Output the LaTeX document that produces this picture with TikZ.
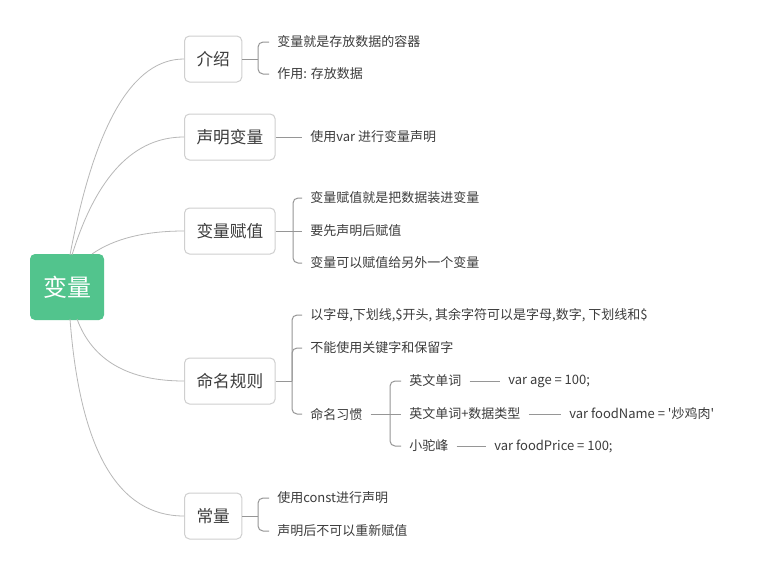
\documentclass[tikz,border=0pt]{standalone}
\usepackage{fontspec}
\newfontfamily\cjk{Noto Sans CJK SC}
\definecolor{rootgreen}{HTML}{52C48D}
\definecolor{txt}{HTML}{3C3C3C}
\definecolor{brd}{HTML}{CFCFCF}
\definecolor{curvec}{HTML}{B8B8B8}
\definecolor{branchc}{HTML}{969696}
\tikzset{
  rootbox/.style={fill=rootgreen, rounded corners=3.75pt, minimum width=55.5pt, minimum height=49.5pt, text=white, font=\cjk\fontsize{18}{20}\selectfont, inner sep=0pt},
  topicbox/.style={draw=brd, line width=0.75pt, fill=white, rounded corners=3.75pt, minimum height=34.5pt, inner xsep=9pt, text=txt, font=\cjk\fontsize{12.5}{14}\selectfont, anchor=west},
  leaf/.style={anchor=west, inner xsep=6pt, inner ysep=2pt, text=txt, font=\cjk\fontsize{9.75}{12}\selectfont},
  curveline/.style={draw=curvec, line width=0.6pt},
  branchline/.style={draw=branchc, line width=0.75pt, rounded corners=3.75pt},
}
\begin{document}
\begin{tikzpicture}[x=0.75pt,y=-0.75pt]
\useasboundingbox[fill=white] (0,0) rectangle (760,576);
% root
\node[rootbox] (root) at (67,287) {变量};
% topics
\node[topicbox] (t1) at (184,59) {介绍};
\node[topicbox] (t2) at (184,137) {声明变量};
\node[topicbox] (t3) at (184,231) {变量赋值};
\node[topicbox] (t4) at (184,381) {命名规则};
\node[topicbox] (t5) at (184,516) {常量};
% curve start points
\coordinate (s1) at (70,255);
\coordinate (s2) at (72,255);
\coordinate (s3) at (92,254);
\coordinate (s4) at (77,319);
\coordinate (s5) at (70,319);
\draw[curveline] (s1) .. controls (94.7,123.7) and (132.7,59) .. (t1.west);
\draw[curveline] (s2) .. controls (96.7,175.7) and (134,137) .. (t2.west);
\draw[curveline] (s3) .. controls (114,238.7) and (144.7,231) .. (t3.west);
\draw[curveline] (s4) .. controls (92.3,360.3) and (128,381) .. (t4.west);
\draw[curveline] (s5) .. controls (80,450.3) and (118,516) .. (t5.west);
% leaves
\node[leaf] (l1a) at (269,42) {变量就是存放数据的容器};
\node[leaf] (l1b) at (269,74) {作用: 存放数据};
\node[leaf] (l2) at (302,137) {使用var 进行变量声明};
\node[leaf] (l3a) at (302,198) {变量赋值就是把数据装进变量};
\node[leaf] (l3b) at (302,231) {要先声明后赋值};
\node[leaf] (l3c) at (302,263) {变量可以赋值给另外一个变量};
\node[leaf] (l4a) at (302,315) {以字母,下划线,\$开头, 其余字符可以是字母,数字, 下划线和\$};
\node[leaf] (l4b) at (302,348) {不能使用关键字和保留字};
\node[leaf] (l4c) at (302,414) {命名习惯};
\node[leaf] (l5a) at (401,381) {英文单词};
\node[leaf] (l5b) at (401,414) {英文单词+数据类型};
\node[leaf] (l5c) at (401,446) {小驼峰};
\node[leaf] (c5a) at (500,381) {var age = 100;};
\node[leaf] (c5b) at (561,414) {var foodName = '炒鸡肉'};
\node[leaf] (c5c) at (486,446) {var foodPrice = 100;};
\node[leaf] (l6a) at (269,498) {使用const进行声明};
\node[leaf] (l6b) at (269,531) {声明后不可以重新赋值};
% junctions
\coordinate (j1) at (258,59);
\coordinate (j3) at (293,231);
\coordinate (j4) at (292,381);
\coordinate (j5) at (390,414);
\coordinate (j6) at (258,516);
% branches
\draw[branchline] (t1.east) -- (j1);
\draw[branchline] (j1) |- (l1a.west);
\draw[branchline] (j1) |- (l1b.west);
\draw[branchline] (t2.east) -- (l2.west);
\draw[branchline] (t3.east) -- (j3);
\draw[branchline] (j3) |- (l3a.west);
\draw[branchline] (j3) -- (l3b.west);
\draw[branchline] (j3) |- (l3c.west);
\draw[branchline] (t4.east) -- (j4);
\draw[branchline] (j4) |- (l4a.west);
\draw[branchline] (j4) |- (l4b.west);
\draw[branchline] (j4) |- (l4c.west);
\draw[branchline] (l4c.east) -- (j5);
\draw[branchline] (j5) |- (l5a.west);
\draw[branchline] (j5) -- (l5b.west);
\draw[branchline] (j5) |- (l5c.west);
\draw[branchline] (l5a.east) -- (c5a.west);
\draw[branchline] (l5b.east) -- (c5b.west);
\draw[branchline] (l5c.east) -- (c5c.west);
\draw[branchline] (t5.east) -- (j6);
\draw[branchline] (j6) |- (l6a.west);
\draw[branchline] (j6) |- (l6b.west);
\end{tikzpicture}
\end{document}
